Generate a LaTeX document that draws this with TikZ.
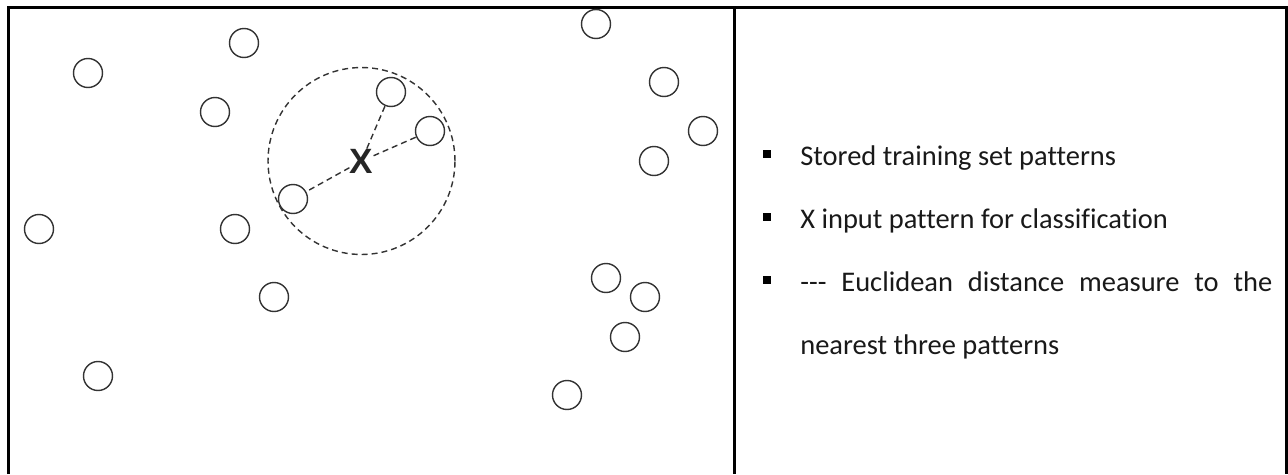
\documentclass[tikz,border=0pt]{standalone}
\usepackage{fontspec}
\setmainfont{Carlito}[Ligatures=NoCommon]
\newfontfamily\xfont{Liberation Sans Bold}
\usetikzlibrary{positioning}

\tikzset{
  pat/.style={circle,draw=black!80,line width=0.8pt,inner sep=0pt,minimum size=0.58cm},
  dist/.style={draw=black!80,line width=0.8pt,dash pattern=on 3.4pt off 2.3pt},
  frame/.style={draw=black,line width=1.7pt},
  bul/.style={fill=black,inner sep=0pt,minimum size=0.15cm},
  lbl/.style={anchor=base west,inner sep=0pt,text=black!90,font=\fontsize{16.2}{18}\selectfont}
}

\begin{document}
\begin{tikzpicture}[x=0.02cm,y=-0.02cm]
  \useasboundingbox (0,0) rectangle (1288,474);

  \draw[frame] (8.5,474) |- (1286,7.5) -- (1286,474) ;
  \draw[frame] (734.5,7.5) -- (734.5,474) ;

  \node[pat] (p1) at (244,43) {};
  \node[pat] (p2) at (88,73) {};
  \node[pat] (p3) at (596,24) {};
  \node[pat] (p4) at (664,82) {};
  \node[pat] (p5) at (215,112) {};
  \node[pat] (p6) at (391,92) {};
  \node[pat] (p7) at (430,131) {};
  \node[pat] (p8) at (703,131) {};
  \node[pat] (p9) at (654,161) {};
  \node[pat] (p10) at (293,199) {};
  \node[pat] (p11) at (39,229) {};
  \node[pat] (p12) at (235,229) {};
  \node[pat] (p13) at (606,278) {};
  \node[pat] (p14) at (645,297) {};
  \node[pat] (p15) at (274,297) {};
  \node[pat] (p16) at (625,337) {};
  \node[pat] (p17) at (98,376) {};
  \node[pat] (p18) at (567,395) {};

  \node[inner sep=0pt,text=black!85,font=\xfont\fontsize{20}{22}\selectfont] (xin) at (361.5,161) {X};
  \draw[dist] (361.5,161) circle [radius=1.87cm] ;

  \draw[dist] (xin) -- (p6) ;
  \draw[dist] (xin) -- (p7) ;
  \draw[dist] (xin) -- (p10) ;

  \node[bul] (b1) at (767,154) {};
  \node[bul] (b2) at (767,217) {};
  \node[bul] (b3) at (767,280) {};

  \node[lbl] (t1) at (800,165) {Stored training set patterns};
  \node[lbl] (t2) at (800,228) {X input pattern for classification};
  \node[lbl] (t3) at (800,291) {\makebox[9.44cm][s]{-{}-{}- Euclidean distance measure to the}};
  \node[lbl] (t4) at (800,354) {nearest three patterns};

\end{tikzpicture}
\end{document}
